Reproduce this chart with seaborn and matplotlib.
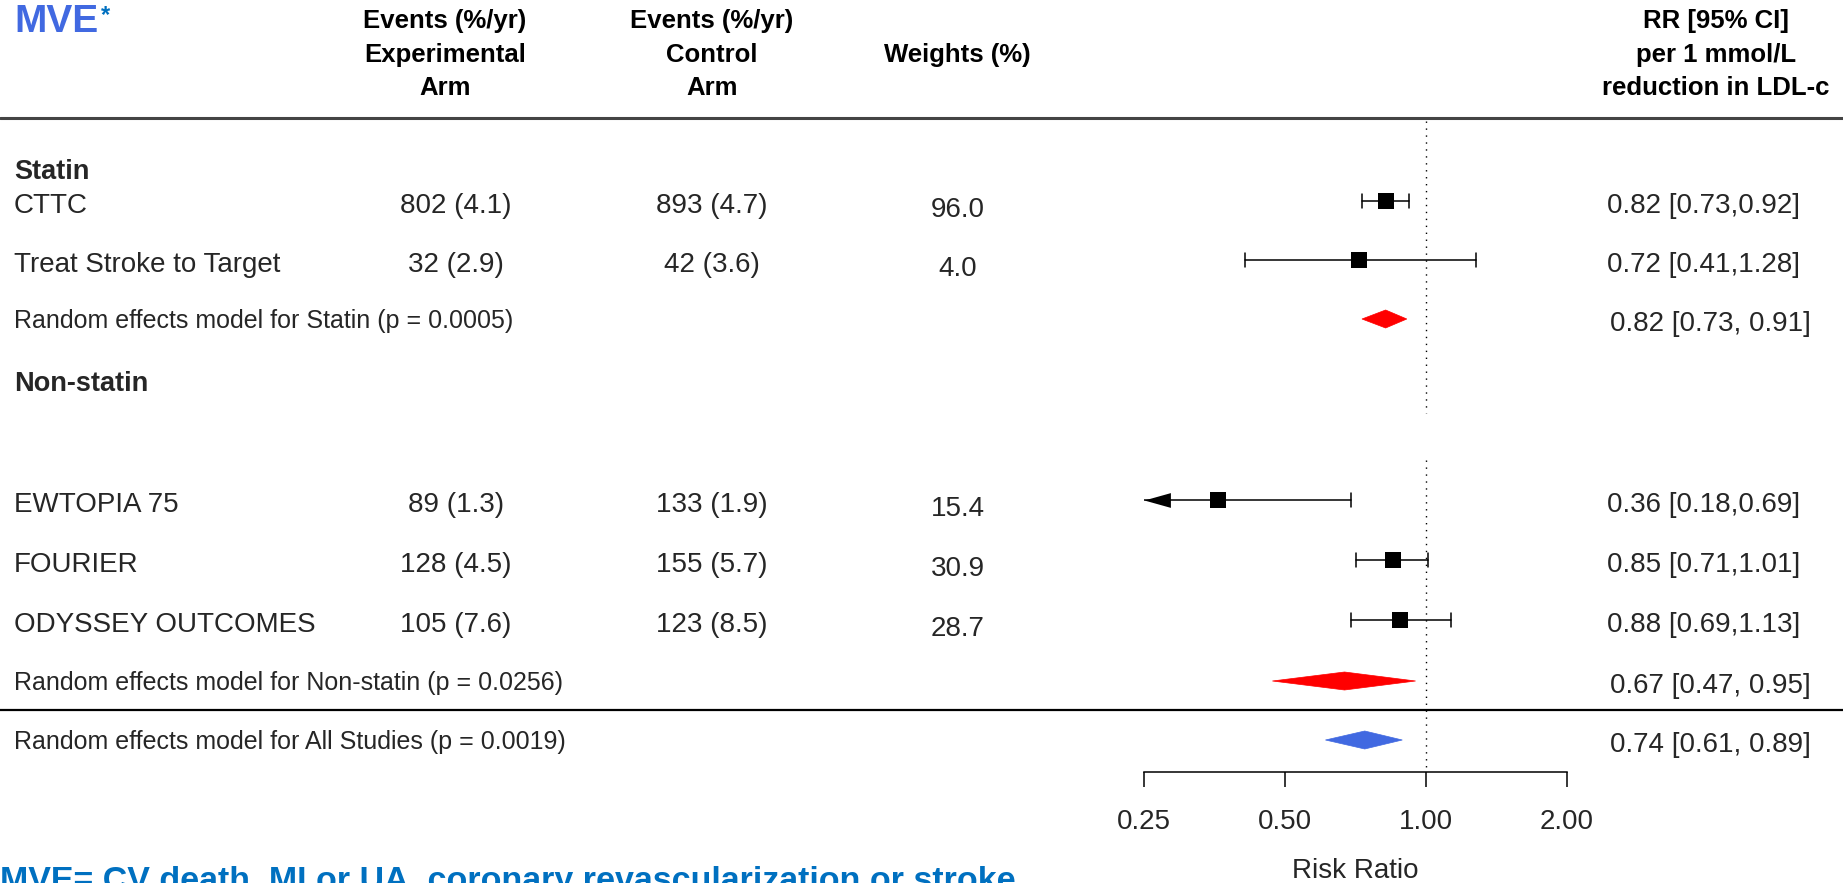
import numpy as np
import pandas as pd
import matplotlib.pyplot as plt
from matplotlib.patches import Polygon
import seaborn as sns

# --- Data ---
studies = ["CTTC", "Treat Stroke to Target", "EWTOPIA 75", "FOURIER", "ODYSSEY OUTCOMES"]
exp_events = ["802 (4.1)", "32 (2.9)", "89 (1.3)", "128 (4.5)", "105 (7.6)"]
ctrl_events = ["893 (4.7)", "42 (3.6)", "133 (1.9)", "155 (5.7)", "123 (8.5)"]
weights = [96.0, 4.0, 15.4, 30.9, 28.7]
rr = [0.82, 0.72, 0.36, 0.85, 0.88]
ci_lo = [0.73, 0.41, 0.18, 0.71, 0.69]
ci_hi = [0.92, 1.28, 0.69, 1.01, 1.13]

group_labels = ["Statin", "Non-statin"]

summary_labels = [
    "Random effects model for Statin (p = 0.0005)",
    "Random effects model for Non-statin (p = 0.0256)",
    "Random effects model for All Studies (p = 0.0019)",
]
summary_rr = [0.82, 0.67, 0.74]
summary_lo = [0.73, 0.47, 0.61]
summary_hi = [0.91, 0.95, 0.89]
summary_colors = ["#ff0000", "#ff0000", "#4169e1"]

x_ticks = [0.25, 0.5, 1.0, 2.0]
x_ticklabels = ["0.25", "0.50", "1.00", "2.00"]

# --- Layout (figure pixels, y downward) ---
W, H = 1843, 883
study_y = [201, 260, 500, 560, 620]
summary_y = [319, 681, 740]
group_y = [172, 384]
axis_y = 772
forest_x0, forest_x1 = 1144, 1567
text_dy = 5

sns.set_theme(style="white")
plt.rcParams['font.family'] = ['Liberation Sans', 'DejaVu Sans']

fig = plt.figure(figsize=(W / 100, H / 100), dpi=100)

# canvas for text and rules
canvas = fig.add_axes([0, 0, 1, 1])
canvas.set_xlim(0, W)
canvas.set_ylim(H, 0)
canvas.axis('off')

# forest panel
fax = fig.add_axes([forest_x0 / W, 1 - axis_y / H, (forest_x1 - forest_x0) / W, axis_y / H])
fax.patch.set_alpha(0)
fax.set_xscale('log', base=2)
fax.set_xlim(x_ticks[0], x_ticks[-1])
fax.set_ylim(axis_y, 0)

df = pd.DataFrame({
    'study': studies, 'rr': rr, 'lo': ci_lo, 'hi': ci_hi, 'y': study_y,
})
df['lo_clip'] = df['lo'].clip(lower=x_ticks[0])

# confidence intervals
for _, r in df.iterrows():
    fax.plot([r['lo_clip'], r['hi']], [r['y'], r['y']], color='black', lw=1.1, zorder=2)
    fax.plot([r['hi'], r['hi']], [r['y'] - 7, r['y'] + 7], color='black', lw=1.1, zorder=2)
    if r['lo'] >= x_ticks[0]:
        fax.plot([r['lo'], r['lo']], [r['y'] - 7, r['y'] + 7], color='black', lw=1.1, zorder=2)
    else:
        arrow = [(0, 0), (1, 0.28), (1, -0.28)]
        fax.scatter([x_ticks[0]], [r['y']], marker=arrow, s=38 ** 2, color='black',
                    linewidths=0, zorder=3, clip_on=False)

sns.scatterplot(data=df, x='rr', y='y', marker='s', s=145, color='black',
                edgecolor='black', linewidth=0, legend=False, ax=fax, zorder=4)

# summary diamonds
for m, lo, hi, y, c in zip(summary_rr, summary_lo, summary_hi, summary_y, summary_colors):
    fax.add_patch(Polygon([(lo, y), (m, y - 9), (hi, y), (m, y + 9)],
                          closed=True, facecolor=c, edgecolor=c, lw=0.5, zorder=3))

# reference line at 1 (broken at the empty row)
fax.plot([1, 1], [121, 413], color='black', lw=1, ls=(0, (1, 4)), zorder=1)
fax.plot([1, 1], [460, axis_y], color='black', lw=1, ls=(0, (1, 4)), zorder=1)

# axis styling
for s in ['top', 'left', 'right']:
    fax.spines[s].set_visible(False)
fax.spines['bottom'].set_color('black')
fax.spines['bottom'].set_linewidth(1.1)
fax.set_xticks(x_ticks)
fax.set_xticklabels(x_ticklabels)
fax.xaxis.set_minor_locator(plt.NullLocator())
fax.tick_params(axis='x', direction='out', length=10.5, width=1.1, color='black',
                pad=16, labelsize=20, bottom=True)
fax.set_yticks([])
fax.set_ylabel('')
fax.set_xlabel('Risk Ratio', fontsize=20, labelpad=17)

# --- header ---
mve = canvas.text(14, 22, "MVE", color='#4169e1', fontsize=28, fontweight='bold',
                  ha='left', va='center')
canvas.annotate("*", xy=(1, 1), xycoords=mve, xytext=(2, 0), textcoords='offset points',
                ha='left', va='top', color='#0070c0', fontsize=17, fontweight='bold')

hdr = dict(fontsize=18.5, fontweight='bold', ha='center', va='center', color='black')
for x, lines in [(445, ["Events (%/yr)", "Experimental", "Arm"]),
                 (712, ["Events (%/yr)", "Control", "Arm"]),
                 (1716, ["RR [95% CI]", "per 1 mmol/L", "reduction in LDL-c"])]:
    for yy, t in zip([21, 55, 88], lines):
        canvas.text(x, yy, t, **hdr)
canvas.text(957, 55, "Weights (%)", **hdr)

canvas.axhline(118, color='#444444', lw=2.2)
canvas.axhline(710, color='black', lw=1.6)

# --- group headers ---
for g, y in zip(group_labels, group_y):
    canvas.text(14, y, g, fontsize=19.5, fontweight='bold', ha='left', va='center')

# --- study rows ---
for i, name in enumerate(studies):
    y = study_y[i] + text_dy
    canvas.text(14, y, name, fontsize=20, ha='left', va='center')
    canvas.text(456, y, exp_events[i], fontsize=20, ha='center', va='center')
    canvas.text(712, y, ctrl_events[i], fontsize=20, ha='center', va='center')
    canvas.text(958, y + 4, f"{weights[i]:.1f}", fontsize=20, ha='center', va='center')
    canvas.text(1607, y, f"{rr[i]:.2f} [{ci_lo[i]:.2f},{ci_hi[i]:.2f}]",
                fontsize=20, ha='left', va='center')

# --- summary rows ---
for lab, m, lo, hi, y in zip(summary_labels, summary_rr, summary_lo, summary_hi, summary_y):
    canvas.text(14, y + text_dy - 3, lab, fontsize=18, ha='left', va='center')
    canvas.text(1610, y + text_dy, f"{m:.2f} [{lo:.2f}, {hi:.2f}]",
                fontsize=20, ha='left', va='center')

# --- footnote (cut by the bottom edge, as in the source) ---
canvas.text(0, 890, "MVE= CV death, MI or UA, coronary revascularization or stroke",
            color='#0070c0', fontsize=24.5, fontweight='bold', ha='left', va='baseline')

fig.savefig('out.png', dpi=100)
